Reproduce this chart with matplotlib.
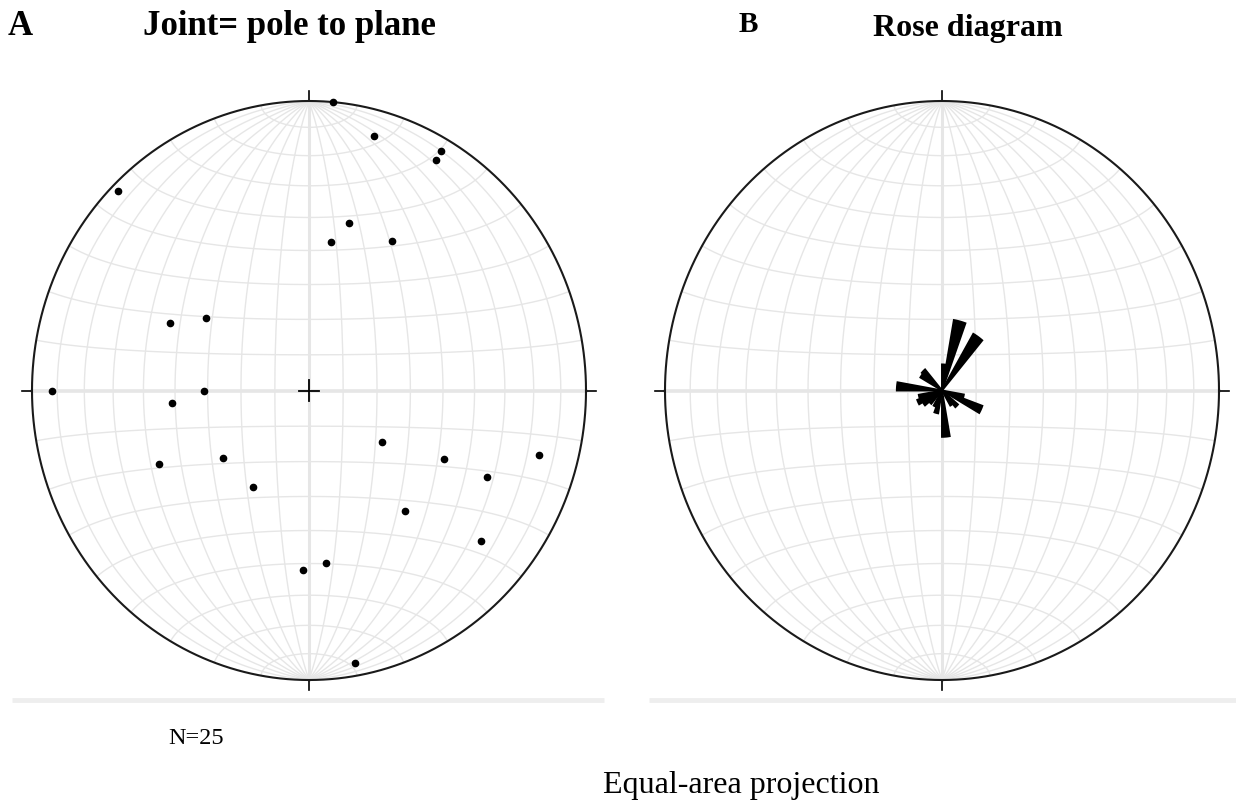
import numpy as np
import matplotlib
matplotlib.use('Agg')
import matplotlib.pyplot as plt
from matplotlib.patches import Polygon

plt.rcParams['font.family'] = ['Liberation Serif', 'DejaVu Serif']

# poles to joint planes (trend, plunge in degrees)
pole_trend = [5, 15, 30, 30, 315, 14, 9, 30, 295, 304, 270, 265, 270, 124,
              245, 233, 116, 105, 115, 211, 140, 130, 182, 174, 170]
pole_plunge = [0, 10, 5, 9, 3, 40, 47, 40, 44, 53, 8, 49, 59, 64,
               40, 58, 45, 15, 30, 58, 45, 20, 38, 40, 5]

# rose diagram: bin start azimuth (10 deg bins) and petal length (fraction of net radius)
rose_start = [0, 10, 30, 100, 110, 130, 140, 170, 190, 200, 220, 230, 240, 250,
              270, 300, 310]
rose_len = [0.09, 0.247, 0.226, 0.08, 0.155, 0.075, 0.06, 0.16, 0.08, 0.06, 0.06,
            0.08, 0.095, 0.085, 0.163, 0.09, 0.095]
bin_width = 10

W, H = 1236, 803


def project(e, n, d):
    # lower hemisphere equal-area, unit primitive radius
    k = 1.0 / np.sqrt(1.0 + d)
    return e * k, n * k


def net_axes(cx, cy, rx, ry, pad=0.1):
    s = 1 + pad
    ax = plt.gcf().add_axes([(cx - rx * s) / W, 1 - (cy + ry * s) / H,
                             2 * rx * s / W, 2 * ry * s / H])
    ax.set_xlim(-s, s)
    ax.set_ylim(-s, s)
    ax.axis('off')

    grid = dict(color='#e6e6e6', lw=1.0, zorder=1)
    t = np.linspace(0, np.pi, 361)
    # great circles striking N-S
    for dip in range(10, 90, 10):
        d = np.radians(dip)
        for sgn in (1, -1):
            e = sgn * np.sin(t) * np.cos(d)
            n = np.cos(t)
            dn = np.sin(t) * np.sin(d)
            ax.plot(*project(e, n, dn), **grid)
    # small circles about the N-S axis
    for a in list(range(10, 90, 10)) + list(range(100, 180, 10)):
        al = np.radians(a)
        e = np.sin(al) * np.cos(t)
        n = np.full_like(t, np.cos(al))
        dn = np.sin(al) * np.sin(t)
        ax.plot(*project(e, n, dn), **grid)
    # diameters
    ax.plot([-1, 1], [0, 0], color='#e6e6e6', lw=2.6, zorder=1)
    ax.plot([0, 0], [-1, 1], color='#e6e6e6', lw=2.2, zorder=1)
    # primitive
    c = np.linspace(0, 2 * np.pi, 721)
    ax.plot(np.cos(c), np.sin(c), color='#1a1a1a', lw=1.5, zorder=3)
    # ticks at N, S, E, W
    tk = 0.036
    ax.plot([0, 0], [1, 1 + tk], color='black', lw=1.2)
    ax.plot([0, 0], [-1, -1 - tk], color='black', lw=1.2)
    ax.plot([1, 1 + tk], [0, 0], color='black', lw=1.2)
    ax.plot([-1, -1 - tk], [0, 0], color='black', lw=1.2)
    return ax


fig = plt.figure(figsize=(W / 100, H / 100), dpi=100)

# A: poles
axA = net_axes(309, 391.5, 277, 289.5)
tr = np.radians(pole_trend)
pl = np.radians(pole_plunge)
px, py = project(np.cos(pl) * np.sin(tr), np.cos(pl) * np.cos(tr), np.sin(pl))
axA.plot(px, py, 'o', color='black', ms=4.5, zorder=4)
axA.plot([-0.035, 0.035], [0, 0], color='black', lw=1.3, zorder=4)
axA.plot([0, 0], [-0.035, 0.035], color='black', lw=1.3, zorder=4)

# B: rose diagram
axB = net_axes(942, 391.5, 277, 289.5)
for s, r in zip(rose_start, rose_len):
    az = np.radians(np.linspace(s, s + bin_width, 12))
    pts = [(0, 0)] + list(zip(r * np.sin(az), r * np.cos(az)))
    axB.add_patch(Polygon(pts, closed=True, facecolor='black',
                          edgecolor='black', lw=1.4, joinstyle='miter', zorder=4))

# gray bars below the nets
bar = dict(color='#eeeeee', lw=3.5, solid_capstyle='butt')
fig.add_artist(plt.Line2D([12 / W, 604 / W], [1 - 701 / H] * 2, **bar))
fig.add_artist(plt.Line2D([649 / W, 1], [1 - 701 / H] * 2, **bar))

# texts
fig.text(8 / W, 1 - 35 / H, 'A', fontsize=25, fontweight='bold')
fig.text(143 / W, 1 - 35 / H, 'Joint= pole to plane', fontsize=25, fontweight='bold')
fig.text(739 / W, 1 - 32 / H, 'B', fontsize=21, fontweight='bold')
fig.text(873 / W, 1 - 36 / H, 'Rose diagram', fontsize=23, fontweight='bold')
fig.text(168 / W, 1 - 744 / H, 'N=25', fontsize=17.5)
fig.text(603 / W, 1 - 793 / H, 'Equal-area projection', fontsize=23)

fig.savefig('out.png', dpi=100)
